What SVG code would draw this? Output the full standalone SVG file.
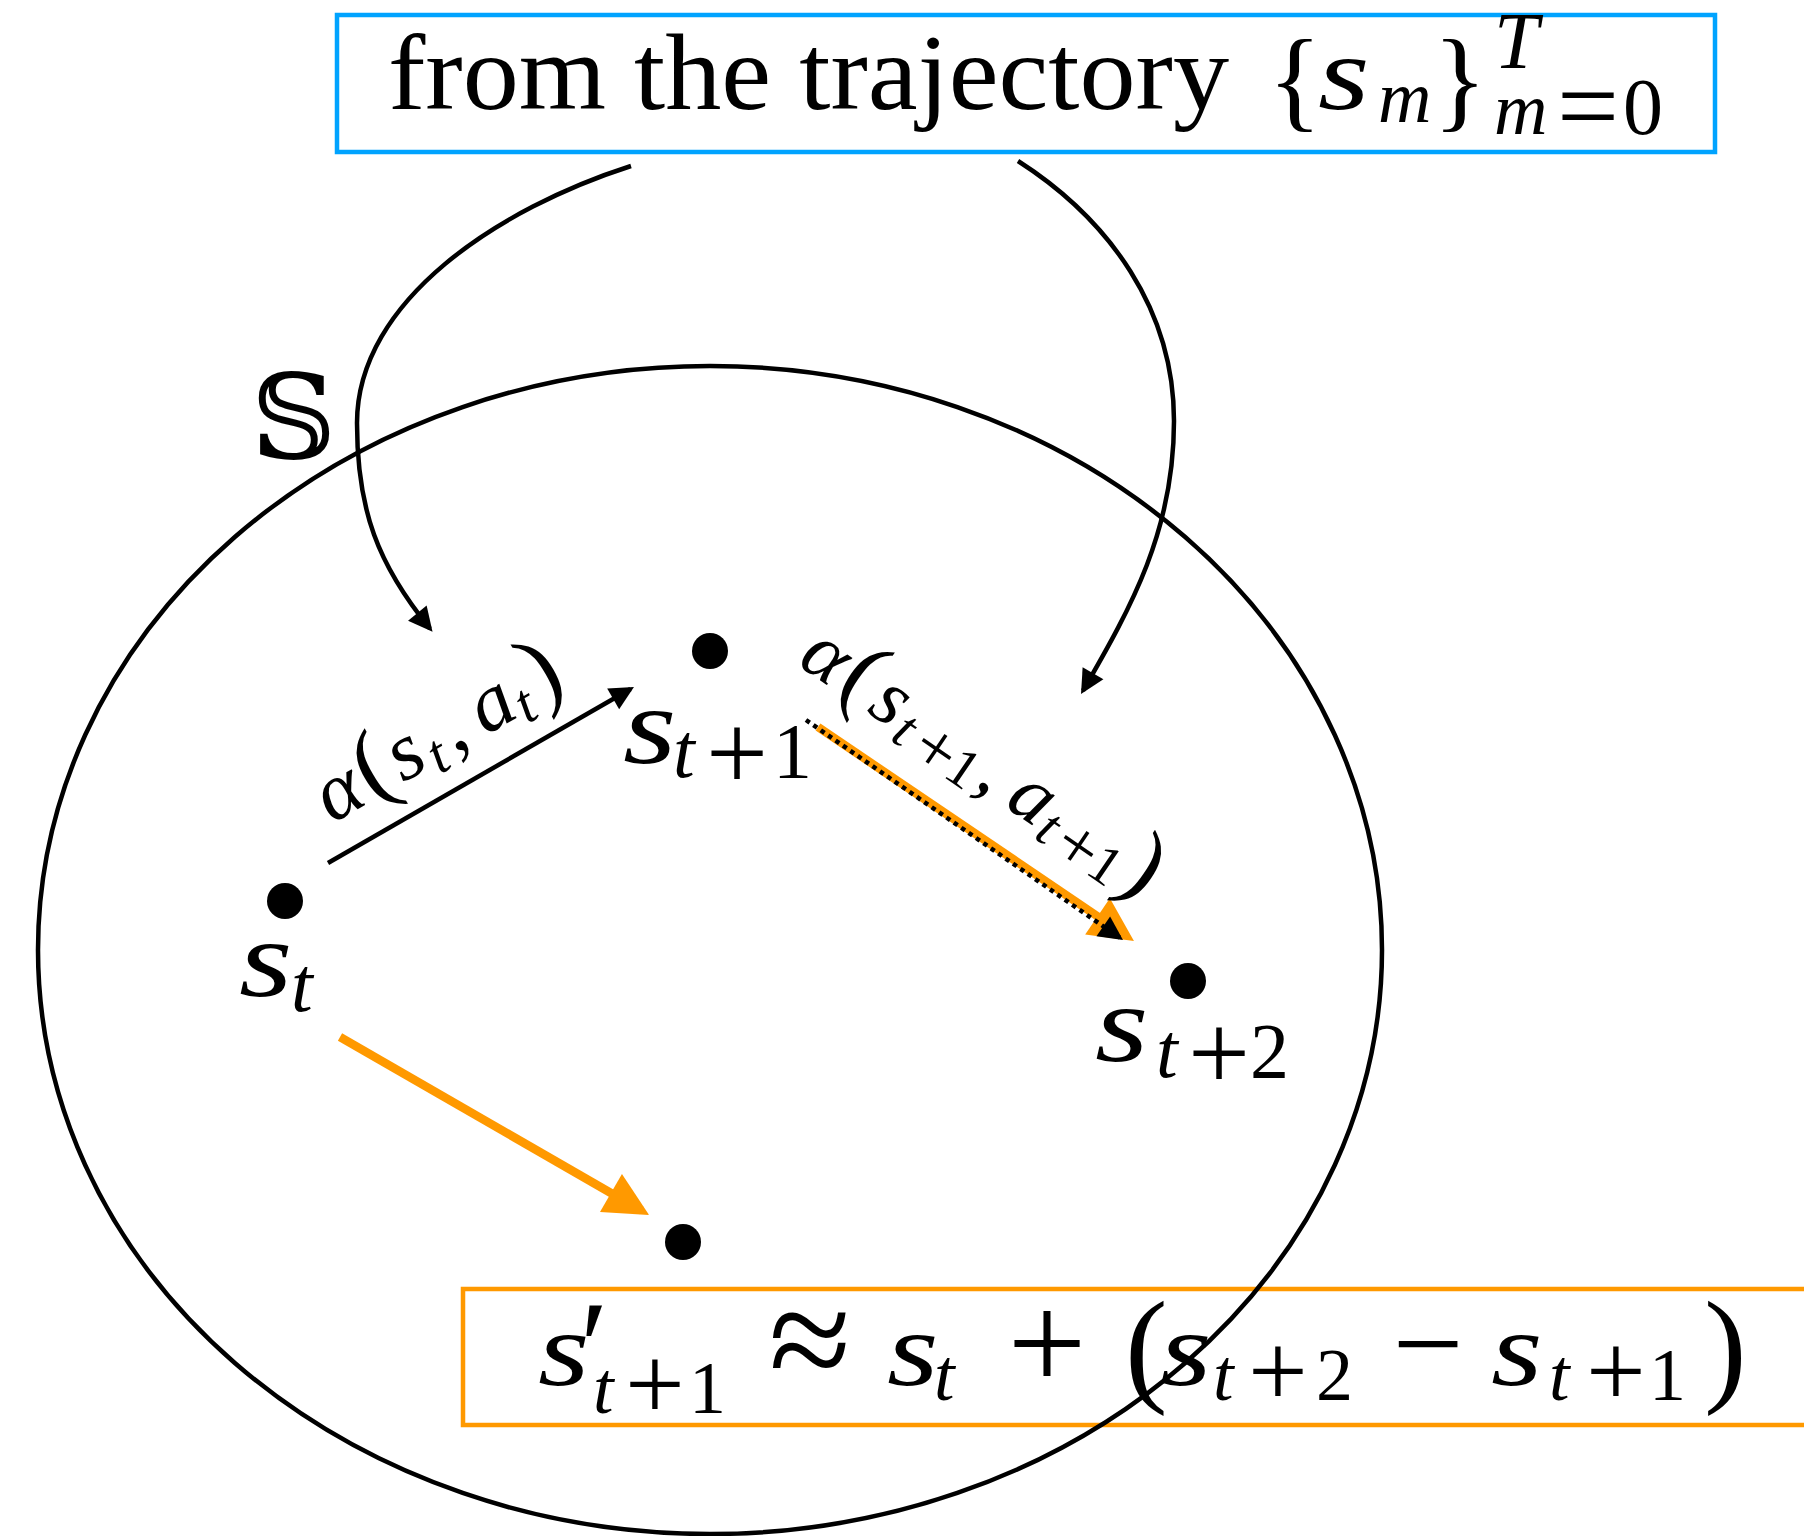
<svg xmlns="http://www.w3.org/2000/svg" width="1804" height="1536" viewBox="0 0 1804 1536">
<style>
.t{font-family:"Liberation Serif","Times New Roman",serif;fill:#000}
.i{font-style:italic}
.ln{fill:none;stroke:#000;stroke-width:4.5}
.or{fill:none;stroke:#FF9900;stroke-width:8.5}
.dot{fill:#000}
</style>
<defs>
<marker id="ah" markerUnits="userSpaceOnUse" markerWidth="24" markerHeight="24" viewBox="0 0 24 24" refX="20" refY="12" orient="auto" overflow="visible"><path d="M0,0 L24,12 L0,24 z" fill="#000"/></marker>
<marker id="aho" markerUnits="userSpaceOnUse" markerWidth="44" markerHeight="44" viewBox="0 0 44 44" refX="35" refY="22" orient="auto" overflow="visible"><path d="M0,0 L44,22 L0,44 z" fill="#FF9900"/></marker>
</defs>
<rect width="1804" height="1536" fill="#fff"/>
<g id="trajectory-box">
<rect x="337" y="15" width="1378" height="137" fill="none" stroke="#00A3FF" stroke-width="4.5"/>
<text class="t" font-size="108" x="388" y="109" textLength="841" lengthAdjust="spacingAndGlyphs">from the trajectory</text>
<text class="t" font-size="112" x="1268" y="117">{</text>
<text class="t i" font-size="106" transform="translate(1318,109) scale(1.25,1)">s</text>
<text class="t i" font-size="74" x="1378" y="122">m</text>
<text class="t" font-size="112" x="1433" y="117">}</text>
<text class="t i" font-size="80" x="1494" y="68">T</text>
<text class="t i" font-size="74" x="1494" y="134">m</text>
<text class="t" font-size="110" x="1588" y="143" text-anchor="middle">=</text>
<text class="t" font-size="80" x="1623" y="134">0</text>
</g>
<g id="formula-box">
<rect x="463" y="1289" width="1400" height="136" fill="none" stroke="#FF9900" stroke-width="4.5"/>
<text class="t i" font-size="106" transform="translate(538,1385) scale(1.25,1)">s</text>
<text class="t" font-size="130" x="580" y="1390">′</text>
<text class="t i" font-size="74" x="593" y="1413">t</text>
<text class="t" font-size="106" x="655" y="1420" text-anchor="middle">+</text>
<text class="t" font-size="74" x="689" y="1413">1</text>
<text class="t" font-size="150" x="810" y="1390" text-anchor="middle">≈</text>
<text class="t i" font-size="106" transform="translate(887,1385) scale(1.25,1)">s</text>
<text class="t i" font-size="74" x="934" y="1400">t</text>
<text class="t" font-size="140" x="1047" y="1390" text-anchor="middle">+</text>
<text class="t" font-size="128" x="1125" y="1389">(</text>
<text class="t i" font-size="106" transform="translate(1160,1385) scale(1.25,1)">s</text>
<text class="t i" font-size="74" x="1213" y="1400">t</text>
<text class="t" font-size="106" x="1278" y="1407" text-anchor="middle">+</text>
<text class="t" font-size="74" x="1316" y="1400">2</text>
<text class="t" font-size="126" x="1428" y="1386" text-anchor="middle">−</text>
<text class="t i" font-size="106" transform="translate(1491,1385) scale(1.25,1)">s</text>
<text class="t i" font-size="74" x="1549" y="1400">t</text>
<text class="t" font-size="106" x="1616" y="1407" text-anchor="middle">+</text>
<text class="t" font-size="74" x="1649" y="1400">1</text>
<text class="t" font-size="128" x="1704" y="1389">)</text>
</g>
<g id="state-space">
<ellipse cx="710" cy="950" rx="672" ry="584" fill="none" stroke="#000" stroke-width="4.5"/>
<text x="251" y="458" font-size="118" font-family="DejaVu Serif, DejaVu Sans, serif">𝕊</text>
</g>
<g id="connectors">
<path class="ln" d="M631,166 C500,208 357,300 357,423 C357,510 378,565 430,628.6" marker-end="url(#ah)"/>
<path class="ln" d="M1018,161 C1110,220 1174,310 1174,421 C1174,530 1132,606 1083,690.6" marker-end="url(#ah)"/>
<path class="or" d="M818,727 L1126.5,936" marker-end="url(#aho)"/>
<path fill="none" stroke="#000" stroke-width="4.5" stroke-dasharray="4.5 4.5" d="M806,720 L1119.7,937.7" marker-end="url(#ah)"/>
<path class="ln" d="M328,863 L630.5,689" marker-end="url(#ah)"/>
<path class="or" d="M340,1037 L641.3,1210.5" marker-end="url(#aho)"/>
<text class="t" font-size="82" transform="translate(332,824) rotate(-29.9)"><tspan class="i" x="0" y="0">α</tspan><tspan x="47" y="0" font-size="96">(</tspan><tspan class="i" x="82" y="0">s</tspan><tspan class="i" x="118" y="11" font-size="57">t</tspan><tspan x="141" y="0">,</tspan><tspan class="i" x="177" y="0">a</tspan><tspan class="i" x="219" y="11" font-size="57">t</tspan><tspan x="241" y="0" font-size="96">)</tspan></text>
<text class="t" font-size="80" transform="translate(796,664) rotate(34.3)"><tspan class="i" x="0" y="0">α</tspan><tspan x="47" y="0" font-size="94">(</tspan><tspan class="i" x="84" y="0">s</tspan><tspan class="i" x="119" y="10" font-size="56">t</tspan><tspan x="164" y="15" font-size="72" text-anchor="middle">+</tspan><tspan x="183" y="10" font-size="56">1</tspan><tspan x="215" y="0">,</tspan><tspan class="i" x="251" y="0">a</tspan><tspan class="i" x="293" y="10" font-size="56">t</tspan><tspan x="336" y="15" font-size="72" text-anchor="middle">+</tspan><tspan x="355" y="10" font-size="56">1</tspan><tspan x="387" y="0" font-size="94">)</tspan></text>
</g>
<g id="node-st">
<circle class="dot" cx="285" cy="901" r="18"/>
<text class="t i" font-size="110" transform="translate(239,996) scale(1.25,1)">s</text>
<text class="t i" font-size="78" x="291" y="1011">t</text>
</g>
<g id="node-st1">
<circle class="dot" cx="710" cy="651" r="18"/>
<text class="t i" font-size="110" transform="translate(623,763) scale(1.25,1)">s</text>
<text class="t i" font-size="78" x="673" y="777">t</text>
<text class="t" font-size="110" x="737" y="790" text-anchor="middle">+</text>
<text class="t" font-size="78" x="773" y="777">1</text>
</g>
<g id="node-st2">
<circle class="dot" cx="1188" cy="981" r="18"/>
<text class="t i" font-size="110" transform="translate(1095,1061) scale(1.25,1)">s</text>
<text class="t i" font-size="78" x="1156" y="1077">t</text>
<text class="t" font-size="110" x="1219" y="1090" text-anchor="middle">+</text>
<text class="t" font-size="78" x="1250" y="1077">2</text>
</g>
<g id="node-sprime">
<circle class="dot" cx="683" cy="1242" r="18"/>
</g>
</svg>
